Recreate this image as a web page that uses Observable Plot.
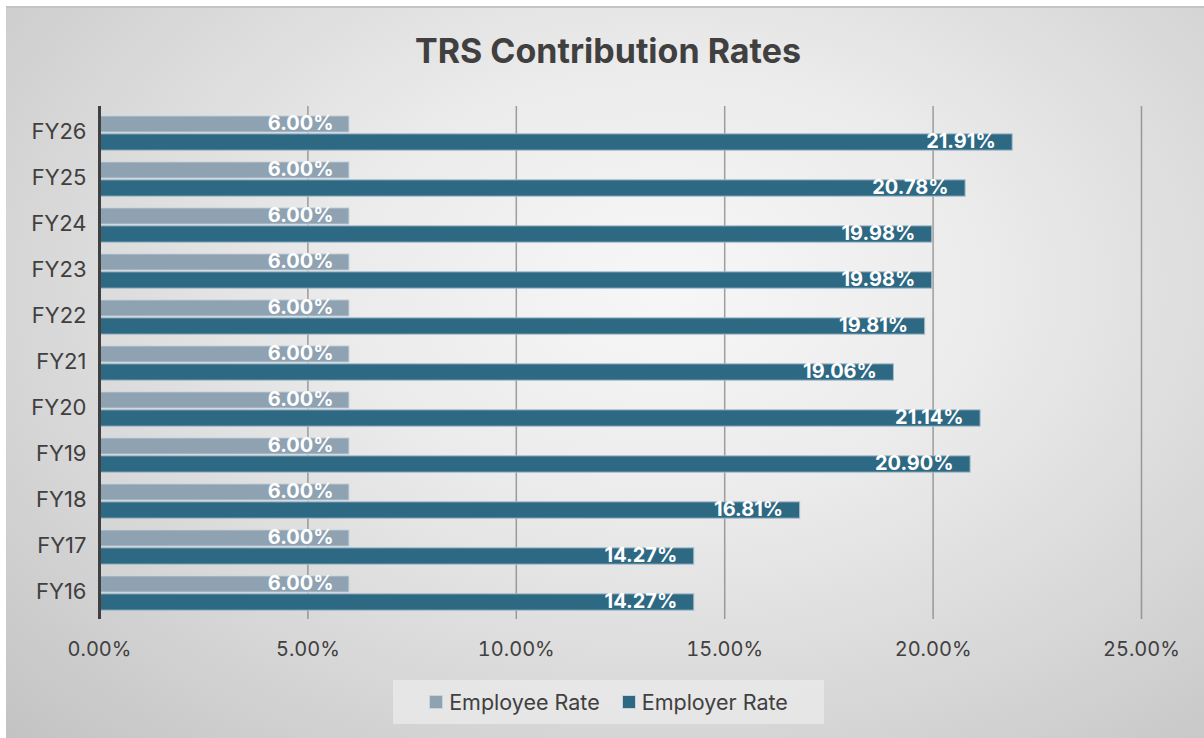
<!DOCTYPE html>
<html>
<head>
<meta charset="utf-8">
<script src="https://cdn.jsdelivr.net/npm/d3@7"></script>
<script src="https://cdn.jsdelivr.net/npm/@observablehq/plot@0.6"></script>
<style>
  html, body { margin: 0; padding: 0; background: #ffffff; }
  #wrap { position: relative; width: 1204px; height: 738px; overflow: hidden; font-family: Inter, "Open Sans", sans-serif; }
  #bg { position: absolute; left: 6px; top: 6px; width: 1198px; height: 732px;
        border-top: 2px solid #c4c4c4; box-sizing: border-box;
        background: radial-gradient(ellipse farthest-corner at 55% 38%, #f7f7f7 0%, #ebebeb 35%, #d6d6d6 70%, #c3c3c3 100%); }
  #title { position: absolute; left: 0; top: 30px; width: 1216px; text-align: center;
           font-size: 34px; font-weight: 700; color: #404040; }
  #chart { position: absolute; left: 0; top: 0; }
  #legend { position: absolute; left: 393px; top: 680px; width: 431px; height: 44px;
            background: rgba(235,235,235,0.75); display: flex; align-items: center; justify-content: center; gap: 22px;
            font-size: 21.5px; color: #404040; }
  .item { display: flex; align-items: center; gap: 6px; }
  .sw { width: 12px; height: 12px; border: 1px solid #c8d4dc; }
</style>
</head>
<body>
<div id="wrap">
  <div id="bg"></div>
  <div id="title">TRS Contribution Rates</div>
  <div id="chart"></div>
  <div id="legend"></div>
</div>
<script>
const years = ["FY26","FY25","FY24","FY23","FY22","FY21","FY20","FY19","FY18","FY17","FY16"];
const employeeRate = [6.00,6.00,6.00,6.00,6.00,6.00,6.00,6.00,6.00,6.00,6.00];
const employerRate = [21.91,20.78,19.98,19.98,19.81,19.06,21.14,20.90,16.81,14.27,14.27];
const seriesNames = ["Employee Rate","Employer Rate"];
const seriesColors = ["#8fa2b2","#2e6984"];
const xTicks = [0,5,10,15,20,25];

const employee = years.map((y,i) => ({year: y, value: employeeRate[i] / 100, series: seriesNames[0]}));
const employer = years.map((y,i) => ({year: y, value: employerRate[i] / 100, series: seriesNames[1]}));
const bandH = (738 - 106 - 119) / 11;
const half = bandH / 2;
const fmt = d => (d*100).toFixed(2) + "%";

const plot = Plot.plot({
  width: 1204,
  height: 738,
  marginLeft: 99,
  marginRight: 63,
  marginTop: 106,
  marginBottom: 119,
  style: {background: "transparent", fontFamily: "Inter, 'Open Sans', sans-serif", fontSize: "20px", color: "#404040", overflow: "visible"},
  x: {domain: [0, 0.25], label: null},
  y: {domain: years, padding: 0, label: null},
  color: {domain: seriesNames, range: seriesColors},
  marks: [
    Plot.ruleX(xTicks.slice(1).map(d => d/100), {stroke: "#7a7a7a", strokeOpacity: 0.7, strokeWidth: 1.5}),
    Plot.barX(employee, {x: "value", y: "year", fill: "series", stroke: "#d2dde4", strokeWidth: 1, insetTop: half - 17.5, insetBottom: half + 0.5}),
    Plot.barX(employer, {x: "value", y: "year", fill: "series", stroke: "#a9bdcb", strokeWidth: 1, insetTop: half + 0.5, insetBottom: half - 17.5}),
    Plot.ruleX([0], {stroke: "#404040", strokeWidth: 3}),
    Plot.text(employee, {x: "value", y: "year", text: d => fmt(d.value), textAnchor: "end", dx: -16, dy: -9.5, fill: "white", fontWeight: 700, fontSize: 20}),
    Plot.text(employer, {x: "value", y: "year", text: d => fmt(d.value), textAnchor: "end", dx: -17, dy: 8.5, fill: "white", fontWeight: 700, fontSize: 20}),
    Plot.axisX({ticks: xTicks.map(d => d/100), tickFormat: fmt, tickSize: 0, tickPadding: 22, fill: "#404040", fontSize: 20, label: null}),
    Plot.axisY({tickSize: 0, tickPadding: 13, fill: "#404040", fontSize: 22, dy: -2, label: null})
  ]
});
document.getElementById("chart").appendChild(plot);

const legend = document.getElementById("legend");
seriesNames.forEach((name, i) => {
  const item = document.createElement("div");
  item.className = "item";
  const sw = document.createElement("span");
  sw.className = "sw";
  sw.style.background = seriesColors[i];
  const label = document.createElement("span");
  label.textContent = name;
  item.appendChild(sw);
  item.appendChild(label);
  legend.appendChild(item);
});
</script>
</body>
</html>
